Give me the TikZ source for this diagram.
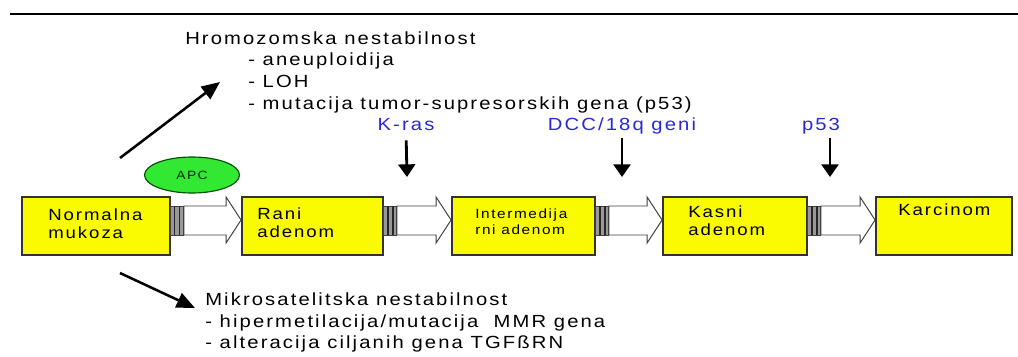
\documentclass[tikz,border=0pt]{standalone}
\usepackage{fontspec}
\setmainfont{Liberation Sans}[FakeStretch=1.15,LetterSpace=12]
\usetikzlibrary{shapes.geometric,arrows.meta}
\definecolor{boxyellow}{RGB}{250,250,0}
\definecolor{apcgreen}{RGB}{50,232,50}
\definecolor{geneblue}{RGB}{40,40,215}
\newcommand\notefont{\fontsize{12.5}{15}\selectfont}
\newcommand\boxfont{\fontsize{11.5}{12.8}\selectfont}
\newcommand\smallboxfont{\fontsize{9.5}{10.7}\selectfont}
\begin{document}
\begin{tikzpicture}[x=0.025cm,y=-0.025cm,
  stage/.style={draw=black!80,line width=1.3pt,fill=boxyellow,minimum height=1.45cm,inner sep=0},
  stagetext/.style={anchor=north west,inner sep=0,align=left,font=\boxfont},
  note/.style={anchor=base west,inner sep=0,font=\notefont},
  gene/.style={anchor=base,inner sep=0,text=geneblue,font=\notefont},
  push/.style={draw=black!75,line width=0.7pt,fill=white},
  trend/.style={line width=1.8pt,-{Triangle[length=13pt,width=11pt]}},
  hit/.style={line width=2pt,-{Triangle[length=9pt,width=12pt]}}]
\useasboundingbox (0,0) rectangle (1018,356);
\draw[line width=1.5pt] (10,14) -- (1018,14);

% hromozomska nestabilnost
\node[note] (cin) at (185,44) {Hromozomska\ nestabilnost};
\node[note] (cin1) at (248,65) {- aneuploidija};
\node[note] (cin2) at (248,87) {- LOH};
\node[note] (cin3) at (248,109) {- mutacija tumor-supresorskih gena (p53)};

% geni
\node[gene] (kras) at (406,130) {K-ras};
\node[gene] (dcc) at (622,130) {DCC/18q geni};
\node[gene] (p53) at (821,130) {p53};

% stadiji
\node[stage,minimum width=3.7cm] (normal) at (96,226) {};
\node[stage,minimum width=3.525cm] (rani) at (312.5,226) {};
\node[stage,minimum width=3.575cm] (inter) at (523.5,226) {};
\node[stage,minimum width=3.6cm] (kasni) at (735,226) {};
\node[stage,minimum width=3.4cm] (karc) at (944,226) {};

\node[stagetext] (normaltext) at (48,208) {Normalna\\mukoza};
\node[stagetext] (ranitext) at (257,207) {Rani\\adenom};
\node[stagetext,font=\smallboxfont] (intertext) at (475,209) {Intermedija\\rni adenom};
\node[stagetext] (kasnitext) at (688,205) {Kasni\\adenom};
\node[stagetext] (karctext) at (898,203) {Karcinom};

\foreach \a/\b in {normal/rani,rani/inter,inter/kasni,kasni/karc}{
  \draw[push] ([shift={(13,-20)}]\a.east) -- ([shift={(-15,-20)}]\b.west)
    -- ([shift={(-15,-29)}]\b.west) -- ([shift={(0,-6)}]\b.west)
    -- ([shift={(-15,17)}]\b.west) -- ([shift={(-15,9)}]\b.west)
    -- ([shift={(13,9)}]\a.east) -- cycle;
  \draw[push,fill=black!40] ([shift={(0,-20)}]\a.east) rectangle ([shift={(13,9)}]\a.east);
  \draw[black!85,line width=0.8pt] ([shift={(4,-20)}]\a.east) -- ([shift={(4,9)}]\a.east)
    ([shift={(9,-20)}]\a.east) -- ([shift={(9,9)}]\a.east);
}

\node[ellipse,draw=green!30!black,line width=0.8pt,fill=apcgreen,minimum width=2.375cm,
  minimum height=0.9cm,inner sep=0,text=green!15!black,font=\fontsize{8.5}{9}\selectfont] (apc) at (192,175) {APC};

% strelice
\coordinate (krastip) at (407,177);
\coordinate (dcctip) at (622,177);
\coordinate (p53tip) at (830,177);
\draw[hit,shorten <=7pt] (kras.south) -- (krastip);
\draw[hit,shorten <=3pt] (dcc.south) -- (dcctip);
\draw[hit,shorten <=3pt] (p53.south -| p53tip) -- (p53tip);

\coordinate (cinstart) at (120,158);
\coordinate (cinend) at (220,82);
\draw[trend] (cinstart) -- (cinend);
\coordinate (msistart) at (120,273);
\coordinate (msiend) at (195,308);
\draw[trend] (msistart) -- (msiend);

% mikrosatelitska nestabilnost
\node[note] (msi) at (205,305) {Mikrosatelitska nestabilnost};
\node[note] (msi1) at (205,327) {- hipermetilacija/mutacija\ \ MMR gena};
\node[note] (msi2) at (205,348) {- alteracija ciljanih gena TGFßRN};
\end{tikzpicture}
\end{document}
